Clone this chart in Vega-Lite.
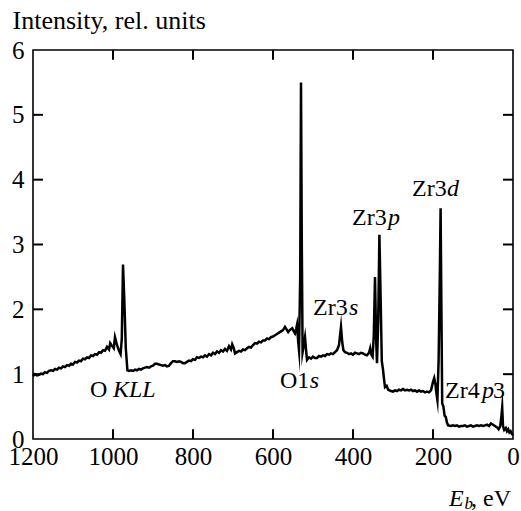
{
  "$schema": "https://vega.github.io/schema/vega-lite/v6.json",
  "width": 480,
  "height": 389,
  "autosize": {"type": "none"},
  "padding": {"left": 33, "top": 50, "right": 8, "bottom": 72},
  "background": "white",
  "config": {
    "view": {"stroke": "black", "strokeWidth": 1.6},
    "font": "Liberation Serif",
    "axis": {
      "domain": false, "ticks": false,
      "labelColor": "black", "labelFont": "Liberation Serif", "labelFontSize": 25,
      "grid": false
    }
  },
  "datasets": {
    "spectrum": [
      {"E":1200,"I":0.97},{"E":1195,"I":1.0},{"E":1190,"I":0.98},{"E":1185,"I":0.99},{"E":1180,"I":1.01},{"E":1175,"I":1.0},{"E":1170,"I":1.03},{"E":1165,"I":1.02},{"E":1160,"I":1.05},{"E":1155,"I":1.06},{"E":1150,"I":1.05},{"E":1145,"I":1.08},{"E":1140,"I":1.07},{"E":1135,"I":1.1},{"E":1130,"I":1.09},{"E":1125,"I":1.12},{"E":1120,"I":1.11},{"E":1115,"I":1.14},{"E":1110,"I":1.13},{"E":1105,"I":1.16},{"E":1100,"I":1.15},{"E":1095,"I":1.19},{"E":1090,"I":1.18},{"E":1085,"I":1.21},{"E":1080,"I":1.2},{"E":1075,"I":1.24},{"E":1070,"I":1.23},{"E":1065,"I":1.26},{"E":1060,"I":1.25},{"E":1055,"I":1.29},{"E":1050,"I":1.28},{"E":1045,"I":1.31},{"E":1040,"I":1.3},{"E":1035,"I":1.34},{"E":1030,"I":1.33},{"E":1025,"I":1.37},{"E":1020,"I":1.36},{"E":1015,"I":1.42},{"E":1010,"I":1.38},{"E":1007,"I":1.48},{"E":1003,"I":1.44},{"E":998,"I":1.4},{"E":995,"I":1.57},{"E":990,"I":1.45},{"E":985,"I":1.36},{"E":981,"I":1.31},{"E":978,"I":1.55},{"E":975,"I":2.69},{"E":972,"I":2.2},{"E":968,"I":1.4},{"E":964,"I":1.06},{"E":960,"I":1.05},{"E":955,"I":1.06},{"E":950,"I":1.05},{"E":945,"I":1.07},{"E":940,"I":1.06},{"E":935,"I":1.08},{"E":930,"I":1.07},{"E":925,"I":1.09},{"E":920,"I":1.1},{"E":915,"I":1.11},{"E":910,"I":1.1},{"E":905,"I":1.12},{"E":900,"I":1.13},{"E":895,"I":1.16},{"E":890,"I":1.16},{"E":885,"I":1.15},{"E":880,"I":1.14},{"E":875,"I":1.13},{"E":870,"I":1.14},{"E":865,"I":1.12},{"E":860,"I":1.13},{"E":855,"I":1.17},{"E":850,"I":1.2},{"E":845,"I":1.2},{"E":840,"I":1.19},{"E":835,"I":1.2},{"E":830,"I":1.19},{"E":825,"I":1.17},{"E":820,"I":1.17},{"E":815,"I":1.19},{"E":810,"I":1.21},{"E":805,"I":1.2},{"E":800,"I":1.23},{"E":795,"I":1.22},{"E":790,"I":1.26},{"E":785,"I":1.25},{"E":780,"I":1.27},{"E":775,"I":1.26},{"E":770,"I":1.29},{"E":765,"I":1.27},{"E":760,"I":1.31},{"E":755,"I":1.29},{"E":750,"I":1.33},{"E":745,"I":1.31},{"E":740,"I":1.35},{"E":735,"I":1.33},{"E":730,"I":1.37},{"E":725,"I":1.35},{"E":720,"I":1.39},{"E":715,"I":1.36},{"E":710,"I":1.43},{"E":705,"I":1.38},{"E":702,"I":1.46},{"E":698,"I":1.4},{"E":695,"I":1.32},{"E":690,"I":1.34},{"E":685,"I":1.36},{"E":680,"I":1.35},{"E":675,"I":1.38},{"E":670,"I":1.37},{"E":665,"I":1.4},{"E":660,"I":1.42},{"E":655,"I":1.41},{"E":650,"I":1.45},{"E":645,"I":1.48},{"E":640,"I":1.47},{"E":635,"I":1.5},{"E":630,"I":1.49},{"E":625,"I":1.52},{"E":620,"I":1.52},{"E":615,"I":1.55},{"E":610,"I":1.54},{"E":605,"I":1.57},{"E":600,"I":1.58},{"E":595,"I":1.6},{"E":590,"I":1.62},{"E":585,"I":1.64},{"E":580,"I":1.66},{"E":575,"I":1.68},{"E":570,"I":1.73},{"E":565,"I":1.68},{"E":562,"I":1.65},{"E":558,"I":1.68},{"E":552,"I":1.71},{"E":548,"I":1.66},{"E":545,"I":1.63},{"E":542,"I":1.7},{"E":540,"I":1.76},{"E":537,"I":1.5},{"E":535,"I":1.37},{"E":532,"I":2.5},{"E":530,"I":5.5},{"E":528,"I":3.0},{"E":526,"I":1.34},{"E":523,"I":1.45},{"E":520,"I":1.57},{"E":517,"I":1.35},{"E":515,"I":1.22},{"E":510,"I":1.26},{"E":505,"I":1.24},{"E":500,"I":1.27},{"E":495,"I":1.25},{"E":490,"I":1.25},{"E":485,"I":1.28},{"E":480,"I":1.27},{"E":475,"I":1.29},{"E":470,"I":1.28},{"E":465,"I":1.31},{"E":460,"I":1.3},{"E":455,"I":1.32},{"E":450,"I":1.31},{"E":445,"I":1.34},{"E":440,"I":1.37},{"E":435,"I":1.45},{"E":430,"I":1.73},{"E":427,"I":1.5},{"E":424,"I":1.37},{"E":420,"I":1.34},{"E":415,"I":1.33},{"E":410,"I":1.31},{"E":405,"I":1.32},{"E":400,"I":1.3},{"E":395,"I":1.33},{"E":390,"I":1.32},{"E":385,"I":1.31},{"E":380,"I":1.33},{"E":375,"I":1.32},{"E":370,"I":1.3},{"E":365,"I":1.29},{"E":360,"I":1.33},{"E":357,"I":1.4},{"E":354,"I":1.3},{"E":351,"I":1.27},{"E":348,"I":1.6},{"E":345,"I":2.5},{"E":342,"I":1.5},{"E":340,"I":1.17},{"E":337,"I":1.8},{"E":334,"I":3.15},{"E":331,"I":2.2},{"E":328,"I":1.2},{"E":325,"I":1.07},{"E":322,"I":0.9},{"E":320,"I":0.8},{"E":316,"I":0.82},{"E":312,"I":0.76},{"E":305,"I":0.74},{"E":300,"I":0.73},{"E":295,"I":0.75},{"E":290,"I":0.74},{"E":285,"I":0.76},{"E":280,"I":0.75},{"E":275,"I":0.77},{"E":270,"I":0.75},{"E":265,"I":0.76},{"E":260,"I":0.75},{"E":255,"I":0.76},{"E":250,"I":0.74},{"E":245,"I":0.75},{"E":240,"I":0.73},{"E":235,"I":0.75},{"E":230,"I":0.73},{"E":225,"I":0.74},{"E":220,"I":0.72},{"E":215,"I":0.73},{"E":210,"I":0.72},{"E":205,"I":0.75},{"E":200,"I":0.88},{"E":197,"I":0.94},{"E":194,"I":0.85},{"E":192,"I":0.73},{"E":189,"I":0.6},{"E":186,"I":1.2},{"E":183,"I":2.5},{"E":181,"I":3.56},{"E":179,"I":2.0},{"E":177,"I":0.55},{"E":174,"I":0.5},{"E":171,"I":0.36},{"E":168,"I":0.34},{"E":165,"I":0.25},{"E":162,"I":0.21},{"E":155,"I":0.2},{"E":150,"I":0.21},{"E":145,"I":0.2},{"E":140,"I":0.21},{"E":135,"I":0.19},{"E":130,"I":0.2},{"E":125,"I":0.2},{"E":120,"I":0.21},{"E":115,"I":0.19},{"E":110,"I":0.2},{"E":105,"I":0.21},{"E":100,"I":0.19},{"E":95,"I":0.2},{"E":90,"I":0.21},{"E":85,"I":0.2},{"E":80,"I":0.21},{"E":75,"I":0.2},{"E":70,"I":0.21},{"E":65,"I":0.22},{"E":60,"I":0.2},{"E":55,"I":0.24},{"E":50,"I":0.22},{"E":45,"I":0.2},{"E":40,"I":0.18},{"E":36,"I":0.15},{"E":32,"I":0.2},{"E":29,"I":0.35},{"E":27,"I":0.49},{"E":25,"I":0.2},{"E":22,"I":0.14},{"E":18,"I":0.17},{"E":15,"I":0.12},{"E":12,"I":0.15},{"E":9,"I":0.1},{"E":6,"I":0.12},{"E":3,"I":0.08},{"E":0,"I":0.06}
    ],
    "xticks": [{"v":200},{"v":400},{"v":600},{"v":800},{"v":1000}],
    "yticks": [{"v":1},{"v":2},{"v":3},{"v":4},{"v":5}],
    "regular": [
      {"x":1057.5,"y":0.65,"t":"O"},
      {"x":582.5,"y":0.79,"t":"O1"},
      {"x":500,"y":1.91,"t":"Zr3"},
      {"x":402.5,"y":3.3,"t":"Zr3"},
      {"x":252.5,"y":3.75,"t":"Zr3"},
      {"x":170,"y":0.64,"t":"Zr4"},
      {"x":50,"y":0.64,"t":"3"},
      {"x":105,"y":-1.03,"t":", eV"}
    ],
    "italic": [
      {"x":1000,"y":0.65,"t":"KLL"},
      {"x":508,"y":0.79,"t":"s"},
      {"x":410,"y":1.91,"t":"s"},
      {"x":312.5,"y":3.3,"t":"p"},
      {"x":165,"y":3.75,"t":"d"},
      {"x":77.5,"y":0.64,"t":"p"},
      {"x":160,"y":-1.03,"t":"E"}
    ],
    "sub": [
      {"x":121,"y":-1.08,"t":"b"}
    ]
  },
  "layer": [
    {
      "data": {"name": "spectrum"},
      "mark": {"type": "line", "color": "black", "strokeWidth": 2.5, "strokeJoin": "miter", "strokeMiterLimit": 20},
      "encoding": {
        "x": {"field": "E", "type": "quantitative",
          "scale": {"domain": [0, 1200], "reverse": true, "nice": false, "zero": false},
          "axis": {"orient": "bottom", "values": [0, 200, 400, 600, 800, 1000, 1200], "format": "d", "title": null, "labelPadding": 5, "labelFlush": false, "labelOverlap": false}},
        "y": {"field": "I", "type": "quantitative",
          "scale": {"domain": [0, 6], "nice": false, "zero": false},
          "axis": {"orient": "left", "values": [0, 1, 2, 3, 4, 5, 6], "format": "d", "labelPadding": 9, "labelBaseline": "alphabetic", "labelOffset": 8, "labelFlush": false, "labelOverlap": false,
            "title": "Intensity, rel. units", "titleAngle": 0, "titleAlign": "left", "titleBaseline": "alphabetic",
            "titleX": -21, "titleY": -22, "titleFont": "Liberation Serif", "titleFontSize": 26, "titleFontWeight": "normal", "titleColor": "black"}}
      }
    },
    {
      "data": {"name": "xticks"},
      "mark": {"type": "rule", "color": "black", "strokeWidth": 2},
      "encoding": {
        "x": {"field": "v", "type": "quantitative"},
        "y": {"datum": 0},
        "y2": {"datum": 0.15}
      }
    },
    {
      "data": {"name": "xticks"},
      "mark": {"type": "rule", "color": "black", "strokeWidth": 2},
      "encoding": {
        "x": {"field": "v", "type": "quantitative"},
        "y": {"datum": 6},
        "y2": {"datum": 5.85}
      }
    },
    {
      "data": {"name": "yticks"},
      "mark": {"type": "rule", "color": "black", "strokeWidth": 2},
      "encoding": {
        "y": {"field": "v", "type": "quantitative"},
        "x": {"datum": 1200},
        "x2": {"datum": 1175}
      }
    },
    {
      "data": {"name": "yticks"},
      "mark": {"type": "rule", "color": "black", "strokeWidth": 2},
      "encoding": {
        "y": {"field": "v", "type": "quantitative"},
        "x": {"datum": 0},
        "x2": {"datum": 25}
      }
    },
    {
      "data": {"name": "regular"},
      "mark": {"type": "text", "align": "left", "baseline": "alphabetic", "font": "Liberation Serif", "fontSize": 24, "color": "black"},
      "encoding": {
        "x": {"field": "x", "type": "quantitative"},
        "y": {"field": "y", "type": "quantitative"},
        "text": {"field": "t"}
      }
    },
    {
      "data": {"name": "italic"},
      "mark": {"type": "text", "align": "left", "baseline": "alphabetic", "font": "Liberation Serif", "fontStyle": "italic", "fontSize": 24, "color": "black"},
      "encoding": {
        "x": {"field": "x", "type": "quantitative"},
        "y": {"field": "y", "type": "quantitative"},
        "text": {"field": "t"}
      }
    },
    {
      "data": {"name": "sub"},
      "mark": {"type": "text", "align": "left", "baseline": "alphabetic", "font": "Liberation Serif", "fontStyle": "italic", "fontSize": 17, "color": "black"},
      "encoding": {
        "x": {"field": "x", "type": "quantitative"},
        "y": {"field": "y", "type": "quantitative"},
        "text": {"field": "t"}
      }
    }
  ]
}
